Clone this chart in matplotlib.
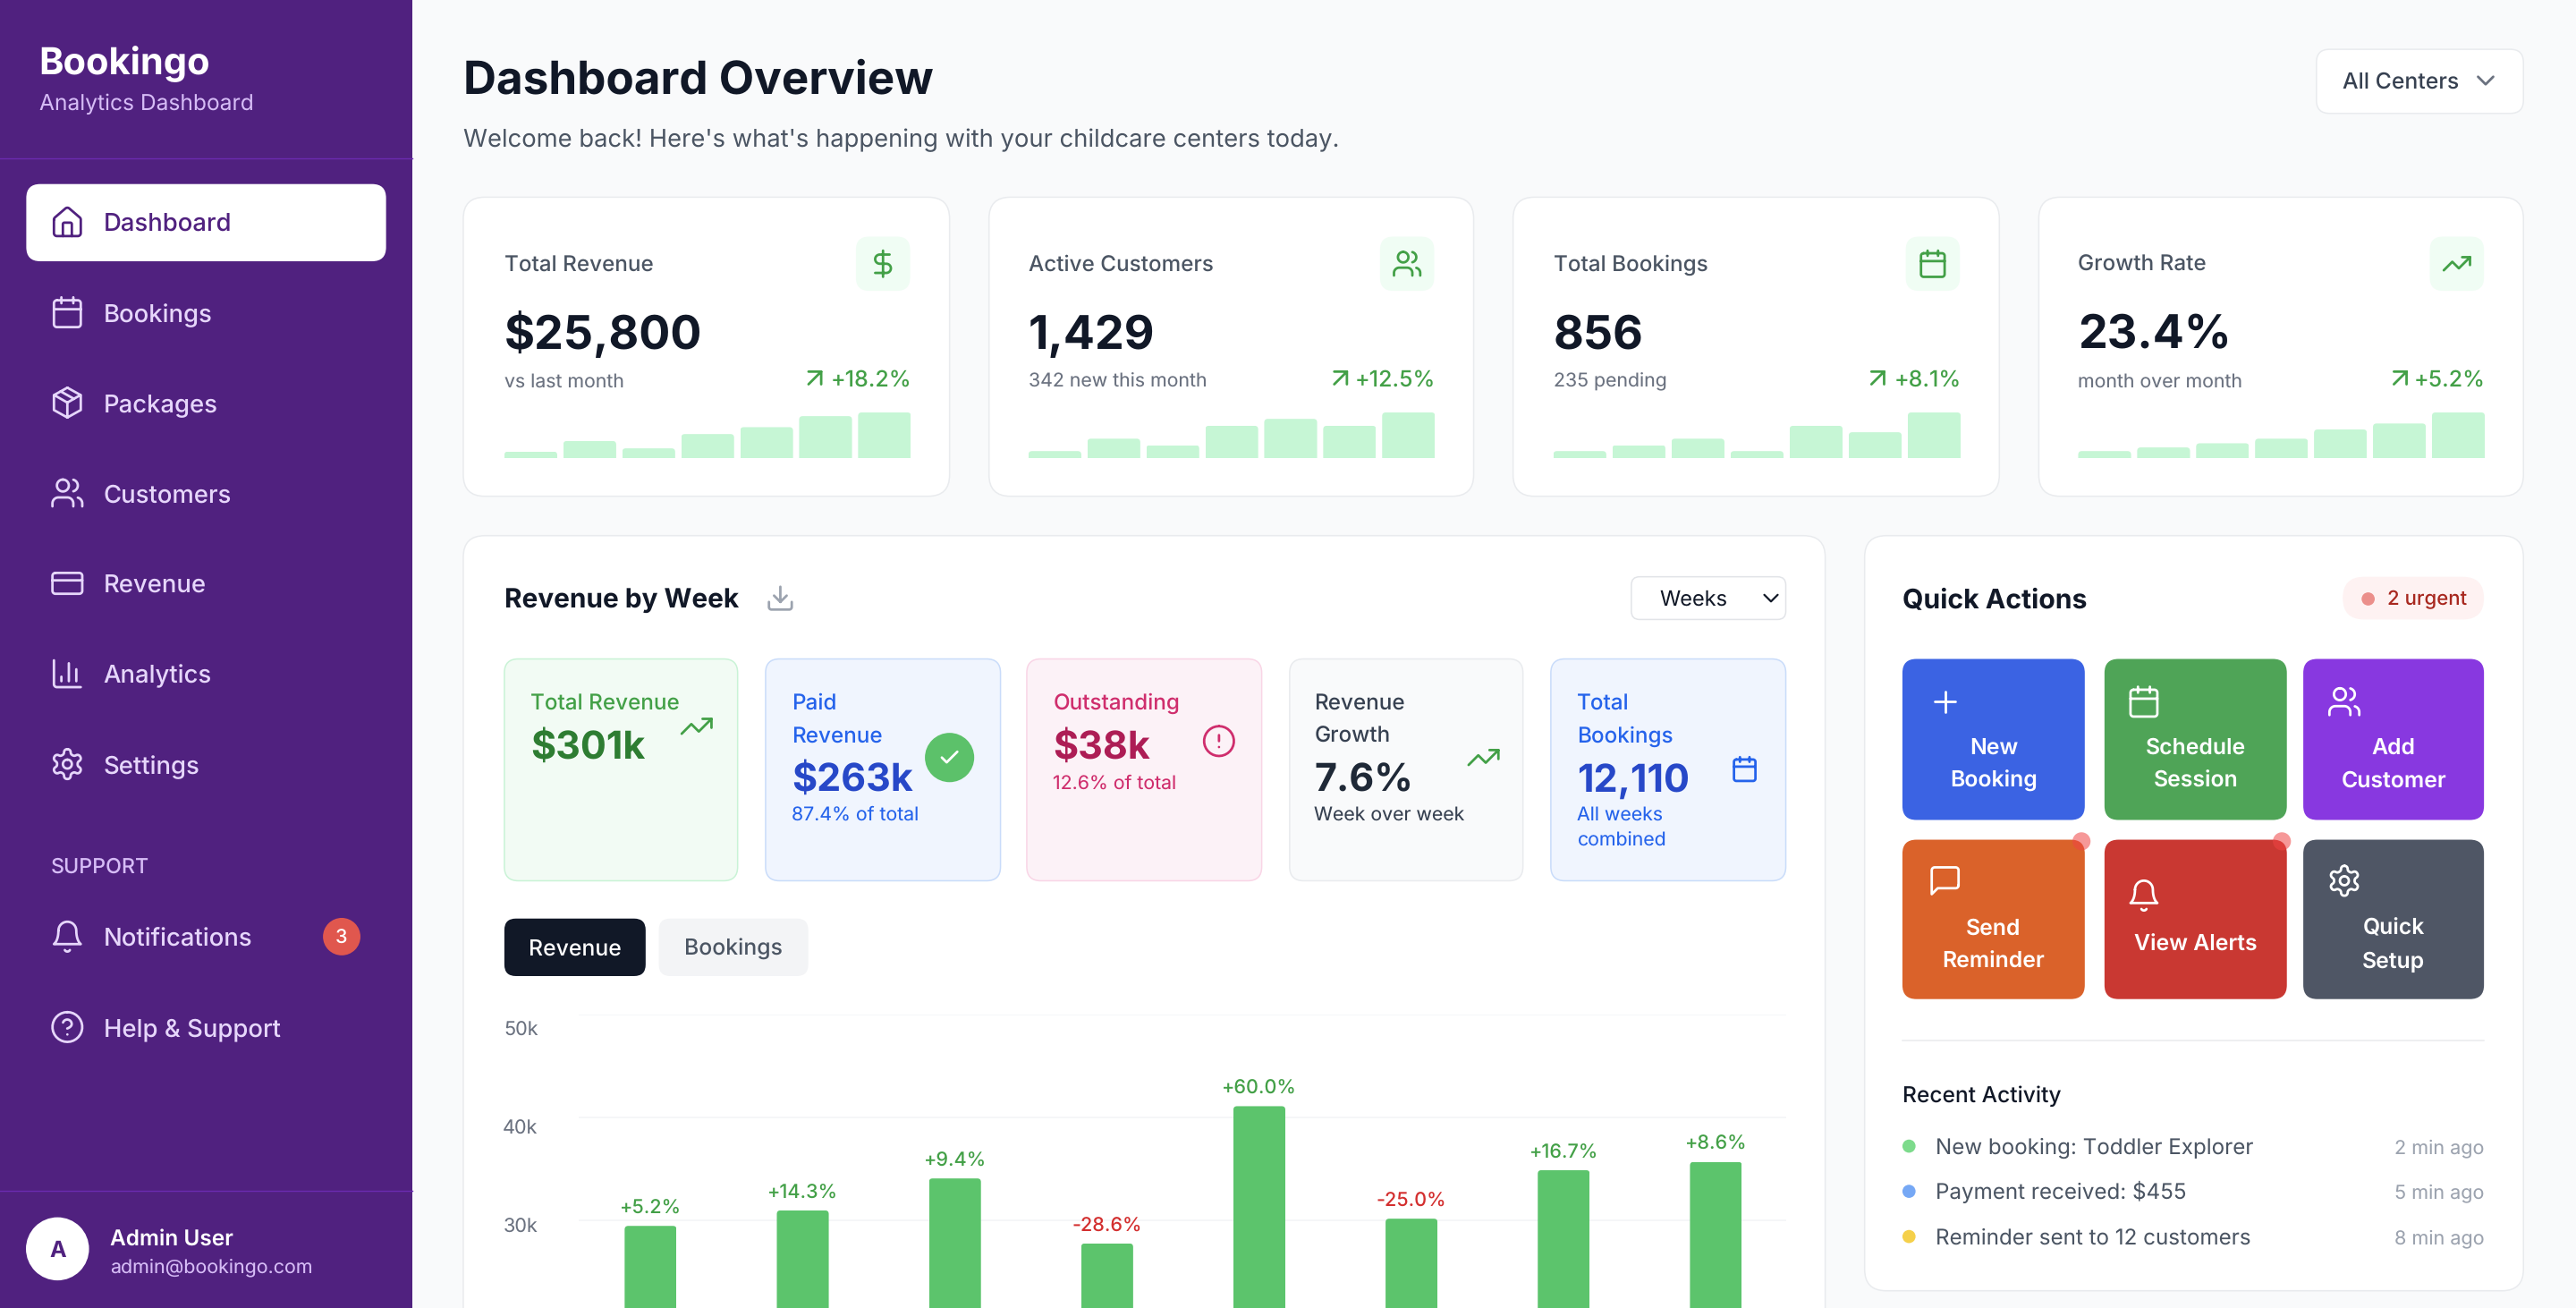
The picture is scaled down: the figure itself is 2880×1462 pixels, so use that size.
import re
import numpy as np
import matplotlib
matplotlib.use("Agg")
import matplotlib.pyplot as plt
from matplotlib.patches import FancyBboxPatch, Circle, PathPatch, BoxStyle
from matplotlib.path import Path
from matplotlib.transforms import IdentityTransform, ScaledTranslation

plt.rcParams['font.family'] = ['Inter', 'DejaVu Sans']
plt.rcParams['text.hinting'] = 'none'
plt.rcParams['text.hinting_factor'] = 1

# ------------------------- data -------------------------
kpi_titles = ["Total Revenue", "Active Customers", "Total Bookings", "Growth Rate"]
kpi_values = ["$25,800", "1,429", "856", "23.4%"]
kpi_subs = ["vs last month", "342 new this month", "235 pending", "month over month"]
kpi_deltas = ["+18.2%", "+12.5%", "+8.1%", "+5.2%"]
spark_revenue = [15, 38, 22, 53, 68, 92, 100]
spark_customers = [16, 43, 29, 71, 86, 71, 100]
spark_bookings = [16, 29, 43, 16, 71, 57, 100]
spark_growth = [16, 24, 33, 43, 63, 76, 100]
week_revenue_k = [29.5, 31.0, 34.1, 27.8, 41.1, 30.2, 34.9, 35.7]
week_growth = ["+5.2%", "+14.3%", "+9.4%", "-28.6%", "+60.0%", "-25.0%", "+16.7%", "+8.6%"]
y_ticks_k = [30, 40, 50]
nav_items = ["Bookings", "Packages", "Customers", "Revenue", "Analytics", "Settings"]
activity = ["New booking: Toddler Explorer", "Payment received: $455", "Reminder sent to 12 customers"]
activity_times = ["2 min ago", "5 min ago", "8 min ago"]

# ------------------------- canvas -------------------------
W, H = 1568.0, 796.0
K = 1568 / 1440  # shown units per css pixel
fig = plt.figure(figsize=(14.4, 7.31), dpi=200, facecolor="#f9fafb")
ax = fig.add_axes([0, 0, 1, 1], zorder=0)
ax.set_xlim(0, W)
ax.set_ylim(H, 0)
ax.axis("off")


def t(x, y, s, css=14, color="#111827", weight="normal", ha="left", zorder=5):
    """Text placed by the visual centre of its capitals."""
    return ax.text(x, y + 0.36 * css * K, s, fontsize=css * 0.72, color=color,
                   fontweight=weight, ha=ha, va="baseline", zorder=zorder)


def box(x0, y0, x1, y1, r, fc, ec="none", lw=0.55, zorder=1):
    p = FancyBboxPatch((x0, y0), x1 - x0, y1 - y0,
                       boxstyle=BoxStyle.Round(pad=0, rounding_size=r),
                       fc=fc, ec=ec, lw=lw, zorder=zorder, mutation_aspect=1)
    ax.add_patch(p)
    return p


def svg_polys(d):
    """Small SVG path flattener (M L H V C A Z)."""
    tok = re.findall(r"[MmLlHhVvCcAaZz]|-?\d*\.?\d+", d)
    i, cmd = 0, None
    polys, cur = [], []
    x, y, sx, sy = 0.0, 0.0, 0.0, 0.0

    def nxt():
        nonlocal i
        v = float(tok[i])
        i += 1
        return v

    while i < len(tok):
        if re.match(r"[A-Za-z]", tok[i]):
            cmd = tok[i]
            i += 1
            if cmd in "Zz":
                cur.append((sx, sy))
                x, y = sx, sy
                polys.append(cur)
                cur = []
                continue
        c = cmd.upper()
        rel = cmd.islower()
        if c == "M":
            if cur:
                polys.append(cur)
            a, b = nxt(), nxt()
            x, y = (x + a, y + b) if rel else (a, b)
            sx, sy = x, y
            cur = [(x, y)]
            cmd = "l" if rel else "L"
        elif c == "L":
            a, b = nxt(), nxt()
            x, y = (x + a, y + b) if rel else (a, b)
            cur = cur or [(sx, sy)]
            cur.append((x, y))
        elif c == "H":
            a = nxt()
            x = x + a if rel else a
            cur = cur or [(sx, sy)]
            cur.append((x, y))
        elif c == "V":
            a = nxt()
            y = y + a if rel else a
            cur = cur or [(sx, sy)]
            cur.append((x, y))
        elif c == "C":
            vals = [nxt() for _ in range(6)]
            if rel:
                vals = [v + (x if k % 2 == 0 else y) for k, v in enumerate(vals)]
            p0 = np.array([x, y])
            p1, p2, p3 = (np.array(vals[k:k + 2]) for k in (0, 2, 4))
            cur = cur or [(sx, sy)]
            for u in np.linspace(0, 1, 14)[1:]:
                q = (1 - u) ** 3 * p0 + 3 * (1 - u) ** 2 * u * p1 + 3 * (1 - u) * u ** 2 * p2 + u ** 3 * p3
                cur.append(tuple(q))
            x, y = p3
        elif c == "A":
            rx, ry, _, la, sw, a, b = [nxt() for _ in range(7)]
            x2, y2 = (x + a, y + b) if rel else (a, b)
            dx, dy = (x - x2) / 2, (y - y2) / 2
            lam = dx ** 2 / rx ** 2 + dy ** 2 / ry ** 2
            if lam > 1:
                rx, ry = rx * lam ** .5, ry * lam ** .5
            num = max(0, rx ** 2 * ry ** 2 - rx ** 2 * dy ** 2 - ry ** 2 * dx ** 2)
            den = rx ** 2 * dy ** 2 + ry ** 2 * dx ** 2
            f = (num / den) ** .5 * (1 if la != sw else -1) if den else 0
            cx_, cy_ = f * rx * dy / ry, -f * ry * dx / rx
            ccx, ccy = cx_ + (x + x2) / 2, cy_ + (y + y2) / 2
            t1 = np.arctan2((dy - cy_) / ry, (dx - cx_) / rx)
            t2 = np.arctan2((-dy - cy_) / ry, (-dx - cx_) / rx)
            if sw and t2 < t1:
                t2 += 2 * np.pi
            if not sw and t2 > t1:
                t2 -= 2 * np.pi
            cur = cur or [(sx, sy)]
            for u in np.linspace(t1, t2, 16)[1:]:
                cur.append((ccx + rx * np.cos(u), ccy + ry * np.sin(u)))
            x, y = x2, y2
    if cur:
        polys.append(cur)
    return polys


ICONS = {
    "home": "M15 21v-8a1 1 0 0 0-1-1h-4a1 1 0 0 0-1 1v8 M3 10a2 2 0 0 1 .709-1.528l7-5.999a2 2 0 0 1 2.582 0l7 5.999A2 2 0 0 1 21 10v9a2 2 0 0 1-2 2H5a2 2 0 0 1-2-2z",
    "calendar": "M8 2v4 M16 2v4 M3 10h18 M5 4h14a2 2 0 0 1 2 2v14a2 2 0 0 1-2 2H5a2 2 0 0 1-2-2V6a2 2 0 0 1 2-2z",
    "package": "M12 2L21 7V17L12 22L3 17V7Z M3.3 7L12 12L20.7 7 M12 22V12 M7.5 4.5L16.5 9.5",
    "users": "M16 21v-2a4 4 0 0 0-4-4H6a4 4 0 0 0-4 4v2 M22 21v-2a4 4 0 0 0-3-3.87 M16 3.13a4 4 0 0 1 0 7.75 M9 3a4 4 0 1 0 0 8a4 4 0 1 0 0-8z",
    "card": "M4 5h16a2 2 0 0 1 2 2v10a2 2 0 0 1-2 2H4a2 2 0 0 1-2-2V7a2 2 0 0 1 2-2z M2 10h20",
    "chart": "M3 3v16a2 2 0 0 0 2 2h16 M18 17V9 M13 17V5 M8 17v-3",
    "gear": "M12.22 2h-.44a2 2 0 0 0-2 2v.18a2 2 0 0 1-1 1.73l-.43.25a2 2 0 0 1-2 0l-.15-.08a2 2 0 0 0-2.73.73l-.22.38a2 2 0 0 0 .73 2.73l.15.1a2 2 0 0 1 1 1.72v.51a2 2 0 0 1-1 1.74l-.15.09a2 2 0 0 0-.73 2.73l.22.38a2 2 0 0 0 2.73.73l.15-.08a2 2 0 0 1 2 0l.43.25a2 2 0 0 1 1 1.73V20a2 2 0 0 0 2 2h.44a2 2 0 0 0 2-2v-.18a2 2 0 0 1 1-1.73l.43-.25a2 2 0 0 1 2 0l.15.08a2 2 0 0 0 2.73-.73l.22-.39a2 2 0 0 0-.73-2.73l-.15-.08a2 2 0 0 1-1-1.74v-.5a2 2 0 0 1 1-1.74l.15-.09a2 2 0 0 0 .73-2.73l-.22-.38a2 2 0 0 0-2.73-.73l-.15.08a2 2 0 0 1-2 0l-.43-.25a2 2 0 0 1-1-1.73V4a2 2 0 0 0-2-2z M12 9a3 3 0 1 0 0 6a3 3 0 1 0 0-6z",
    "bell": "M6 8a6 6 0 0 1 12 0c0 7 3 9 3 9H3c0 0 3-2 3-9 M10.3 21a1.94 1.94 0 0 0 3.4 0",
    "help": "M12 2a10 10 0 1 0 0 20a10 10 0 1 0 0-20z M9.09 9a3 3 0 0 1 5.83 1c0 2-3 3-3 3 M12 17h.01",
    "dollar": "M12 2v20 M17 5H9.5a3.5 3.5 0 0 0 0 7h5a3.5 3.5 0 0 1 0 7H6",
    "trend": "M22 7L13.5 15.5L8.5 10.5L2 17 M16 7h6v6",
    "arrow": "M7 7h10v10 M7 17L17 7",
    "download": "M21 15v4a2 2 0 0 1-2 2H5a2 2 0 0 1-2-2v-4 M7 10l5 5l5-5 M12 15V3",
    "check": "M20 6L9 17l-5-5",
    "alert": "M12 2a10 10 0 1 0 0 20a10 10 0 1 0 0-20z M12 8v4 M12 16h.01",
    "plus": "M5 12h14 M12 5v14",
    "msg": "M21 15a2 2 0 0 1-2 2H7l-4 4V5a2 2 0 0 1 2-2h14a2 2 0 0 1 2 2z",
    "chevron": "M6 9l6 6l6-6",
}


def icon(name, cx, cy, css, color, lw=1.0, zorder=6):
    s = css * K / 24
    verts, codes = [], []
    for poly in svg_polys(ICONS[name]):
        pts = [(cx + (a - 12) * s, cy + (b - 12) * s) for a, b in poly]
        verts += pts
        codes += [Path.MOVETO] + [Path.LINETO] * (len(pts) - 1)
    ax.add_patch(PathPatch(Path(verts, codes), fc="none", ec=color, lw=lw,
                           capstyle="round", joinstyle="round", zorder=zorder))


def round_tops(a, bars, r_px):
    """Clip each bar so that its top corners are rounded."""
    for b in bars:
        (x0, y0), (x1, y1) = a.transData.transform(
            [(b.get_x(), 0), (b.get_x() + b.get_width(), b.get_height())])
        c = FancyBboxPatch((x0, y0 - 40), x1 - x0, y1 - y0 + 40,
                           boxstyle=BoxStyle.Round(pad=0, rounding_size=r_px),
                           transform=IdentityTransform())
        b.set_clip_path(c.get_path(), IdentityTransform())


def sub_axes(x0, y0, x1, y1, zorder=3):
    a = fig.add_axes([x0 / W, 1 - y1 / H, (x1 - x0) / W, (y1 - y0) / H], zorder=zorder)
    a.patch.set_alpha(0)
    for sp in a.spines.values():
        sp.set_visible(False)
    return a


# text sizes, fitted to the widths in the reference
NAV = 13.75
LABEL = 12.15
VALUE = 26.0
STAT = 21.5
SMALL = 10.65
TILE = 12.4
BORDER = "#e9ebee"

# ------------------------- sidebar -------------------------
PURPLE = "#50217f"
LILAC = "#e6d6fb"
LILAC2 = "#d6bcf6"
ax.fill_between([0, 251], 0, H, color=PURPLE, lw=0, zorder=1)
ax.plot([0, 251], [96.5, 96.5], color="#6b2bb0", lw=0.5, zorder=2)
ax.plot([0, 251], [724.5, 724.5], color="#6b2bb0", lw=0.5, zorder=2)
t(23.5, 37, "Bookingo", 20.8, "white", "bold")
t(24, 62, "Analytics Dashboard", 12.3, LILAC2)
box(16, 112, 235, 159, 8.5, "white", zorder=2)
icon("home", 41, 135.5, 20, PURPLE)
t(63, 135.5, "Dashboard", NAV, PURPLE, "medium")
nav_y = [190, 245, 300, 355, 410, 465]
for name, y, ic in zip(nav_items, nav_y, ["calendar", "package", "users", "card", "chart", "gear"]):
    icon(ic, 41, y, 20, LILAC)
    t(63, y + 0.4, name, NAV, LILAC, "medium")
sup = t(31, 527, "SUPPORT", 11, LILAC2, "medium")
icon("bell", 41, 570, 20, LILAC)
t(63, 570.6, "Notifications", NAV, LILAC, "medium")
ax.add_patch(Circle((208, 570), 11.4, fc="#e0574e", ec="none", zorder=3))
t(208, 570, "3", 10.8, "white", "medium", ha="center")
icon("help", 41, 625, 20, LILAC)
t(63, 625.3, "Help & Support", NAV, LILAC, "medium")
ax.add_patch(Circle((35, 760), 19.2, fc="white", ec="none", zorder=3))
t(35, 760, "A", 12.5, PURPLE, "bold", ha="center")
t(67, 753, "Admin User", 12.2, "white", "semibold")
t(67, 770.5, "admin@bookingo.com", 10.7, LILAC2)

# SUPPORT is letter-spaced in the reference: fit the single string to its width
r = fig.canvas.get_renderer()
ww = sup.get_window_extent(r).width / (2880 / 1568)
sup.set_fontsize(sup.get_fontsize() * min(60 / ww, 1.14))

# ------------------------- header -------------------------
t(282, 47, "Dashboard Overview", 25.6, "#111827", "bold")
t(282, 84, "Welcome back! Here's what's happening with your childcare centers today.", 13.7, "#4b5563")
box(1410, 30, 1536, 69, 8, "white", BORDER)
t(1426, 49, "All Centers", 12.4, "#374151", "medium")
icon("chevron", 1513, 49, 17, "#6b7280")

# ------------------------- KPI cards -------------------------
card_x = [(282, 578), (602, 897), (921, 1217), (1241, 1536)]
card_text_x = [307, 626, 945.5, 1265]
kpi_icons = ["dollar", "users", "calendar", "trend"]
arrow_x = [496, 816, 1143, 1461]
GREEN = "#43a047"
sparks = [spark_revenue, spark_customers, spark_bookings, spark_growth]
for i, (x0, x1) in enumerate(card_x):
    tx = card_text_x[i]
    box(x0, 120, x1, 302, 13, "white", BORDER)
    t(tx, 160, kpi_titles[i], LABEL, "#4b5563", "medium")
    box(x1 - 57, 144, x1 - 24, 177, 8, "#f0fdf4", zorder=2)
    icon(kpi_icons[i], x1 - 40.5, 160.5, 17.6, GREEN)
    t(tx, 202, kpi_values[i], VALUE, "#111827", "bold")
    t(tx, 231.5, kpi_subs[i], SMALL, "#6b7280")
    t(x1 - 23.2, 230, kpi_deltas[i], 12.5, GREEN, "medium", ha="right")
    icon("arrow", arrow_x[i], 230, 17, GREEN)
    sa = sub_axes(tx, 251, x1 - 23.5, 279)
    idx = np.arange(7)
    bars = sa.bar(idx, sparks[i], width=0.897, color="#c6f6d5", lw=0)
    sa.set_xlim(-0.4485, 6.4485)
    sa.set_ylim(0, 100)
    sa.set_xticks([])
    sa.set_yticks([])
    round_tops(sa, bars, 4)

# ------------------------- revenue panel -------------------------
box(282, 326, 1111, 830, 13, "white", BORDER)
t(307, 364, "Revenue by Week", 14.9, "#111827", "bold")
icon("download", 475, 364, 17, "#9ca3af")
box(993, 351, 1087, 377, 5, "white", "#e2e4e8")
t(1010, 364, "Weeks", 11.8, "#111827")
icon("chevron", 1078, 364, 15, "#111827", lw=0.8)

stat_boxes = [
    (307, 449, "#f2fbf4", "#c9f3d6"),
    (466, 609, "#f0f5fe", "#c9dcfa"),
    (625, 768, "#fcf2f7", "#f9d5e6"),
    (785, 927, "#f9fafb", BORDER),
    (944, 1087, "#f0f5fe", "#c9dcfa"),
]
for x0, x1, fc, ec in stat_boxes:
    box(x0, 401, x1, 536, 8.5, fc, ec, zorder=2)

t(323, 427, "Total Revenue", LABEL, "#43a047", "medium")
t(323, 453, "$301k", STAT, "#2e7d32", "bold")
icon("trend", 424, 442, 20, GREEN)

BLUE = "#2563eb"
DBLUE = "#2748c8"
t(482, 427, "Paid", LABEL, BLUE, "medium")
t(482, 447, "Revenue", LABEL, BLUE, "medium")
t(482, 473, "$263k", STAT, DBLUE, "bold")
t(482, 495, "87.4% of total", SMALL, BLUE)
ax.add_patch(Circle((578, 461), 15, fc="#5cc16a", ec="none", zorder=3))
icon("check", 578, 461, 13, "white")

t(641, 427, "Outstanding", LABEL, "#cf2e6d", "medium")
t(641, 453, "$38k", STAT, "#ad1d55", "bold")
t(641, 476, "12.6% of total", SMALL, "#cf2e6d")
icon("alert", 742, 451, 20, "#cf2e6d")

t(800, 427, "Revenue", LABEL, "#374151", "medium")
t(800, 447, "Growth", LABEL, "#374151", "medium")
t(800, 473, "7.6%", STAT, "#1f2937", "bold")
t(800, 495, "Week over week", SMALL, "#374151")
icon("trend", 903, 461, 20, GREEN)

t(960, 427, "Total", LABEL, BLUE, "medium")
t(960, 447, "Bookings", LABEL, BLUE, "medium")
t(960, 473, "12,110", STAT, DBLUE, "bold")
t(960, 495, "All weeks", SMALL, BLUE)
t(960, 511, "combined", SMALL, BLUE)
icon("calendar", 1062, 468, 16, BLUE)

box(307, 559, 393, 594, 7, "#111827", zorder=2)
t(350, 576.5, "Revenue", 12.4, "white", "medium", ha="center")
box(401, 559, 492, 594, 7, "#f3f4f6", zorder=2)
t(446.5, 576.5, "Bookings", 12.4, "#4b5563", "medium", ha="center")

# Real chart axes: runs beyond the bottom edge of the page.
GRID_TOP, PITCH = 617.3, 62.8
ca = sub_axes(352, GRID_TOP, 1087, GRID_TOP + 5 * PITCH)
weeks = np.arange(len(week_revenue_k))
bars = ca.bar(weeks, week_revenue_k, width=31.6 / 92.6, color="#5cc46c", lw=0, zorder=3)
ca.set_xlim(-44 / 92.6, 7 + 42.5 / 92.6)
ca.set_ylim(0, 50)
ca.set_xticks([])
ca.set_yticks(y_ticks_k)
ca.set_yticklabels([f"{v}k" for v in y_ticks_k])
ca.tick_params(axis="y", length=0, pad=16.2, labelsize=10.8 * 0.72, labelcolor="#6b7280")
ca.grid(axis="y", color="#f3f4f6", lw=0.55, zorder=0)
ca.set_axisbelow(True)
label_shift = {50: 8.6, 40: 5.9, 30: 3.1}
for tick, v in zip(ca.yaxis.get_major_ticks(), y_ticks_k):
    dy = -label_shift[v] * (2880 / 1568) / 200
    lab = tick.label1
    lab.set_transform(lab.get_transform() + ScaledTranslation(0, dy, fig.dpi_scale_trans))
round_tops(ca, bars, 4)
for x, v, g in zip(weeks, week_revenue_k, week_growth):
    ca.annotate(g, (x, v), xytext=(0, 3.3), textcoords="offset points", ha="center", va="bottom",
                fontsize=10.8 * 0.72, fontweight="medium", annotation_clip=False,
                color="#d32f2f" if g.startswith("-") else GREEN)

# ------------------------- quick actions -------------------------
box(1135, 326, 1536, 785.5, 13, "white", BORDER)
t(1158, 364, "Quick Actions", 15.1, "#111827", "bold")
box(1426, 351, 1512, 377, 13, "#fef2f2", zorder=2)
ax.add_patch(Circle((1441.5, 364.5), 4, fc="#eb8f8b", ec="none", zorder=3))
t(1453, 364, "2 urgent", 11.1, "#a8281f", "medium")

cols = [(1158, 1269), (1281, 1392), (1402, 1512)]
rows = [(401, 499), (511, 608)]
tiles = [
    (0, 0, "#3b63e3", ["New", "Booking"], "plus", 1184, 427),
    (1, 0, "#4fa457", ["Schedule", "Session"], "calendar", 1305, 427),
    (2, 0, "#8838e0", ["Add", "Customer"], "users", 1427, 427),
    (0, 1, "#da622a", ["Send", "Reminder"], "msg", 1184, 536),
    (1, 1, "#c93832", ["View Alerts"], "bell", 1305, 545),
    (2, 1, "#4f5665", ["Quick", "Setup"], "gear", 1427, 536),
]
for c, rw, col, lines, ic, ix, iy in tiles:
    x0, x1 = cols[c]
    y0, y1 = rows[rw]
    box(x0, y0, x1, y1, 8.5, col, zorder=2)
    icon(ic, ix, iy, 20, "white")
    xc = (x0 + x1) / 2
    if len(lines) == 2:
        ys = (454, 474) if rw == 0 else (564, 584)
    else:
        ys = (574,)
    for yy, s in zip(ys, lines):
        t(xc, yy, s, TILE, "white", "semibold", ha="center")
for x in (1267, 1389):
    ax.add_patch(Circle((x, 512), 5.5, fc="#ef4444", alpha=0.55, ec="none", zorder=7))
ax.plot([1158, 1512], [633, 633], color=BORDER, lw=0.55, zorder=2)
t(1158, 666, "Recent Activity", 12.3, "#111827", "medium")
for y, s, tm, col in zip([697.5, 725, 752.5], activity, activity_times, ["#7ddb8c", "#76a8f5", "#f5d04a"]):
    ax.add_patch(Circle((1162, y), 4, fc=col, ec="none", zorder=3))
    t(1178, y, s, 12.1, "#4b5563")
    t(1512, y, tm, 10.8, "#9ca3af", ha="right")

fig.savefig("out.png", dpi=200, facecolor=fig.get_facecolor())
